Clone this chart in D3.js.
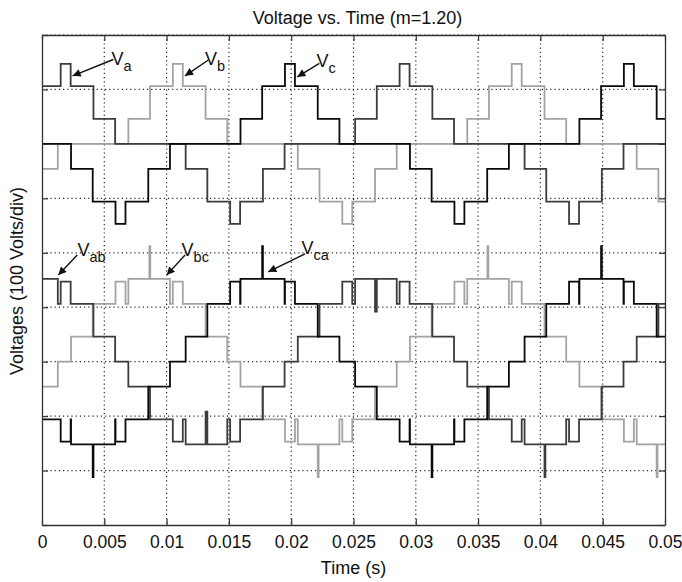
<!DOCTYPE html>
<html>
<head>
<meta charset="utf-8">
<script src="https://cdn.jsdelivr.net/npm/d3@7"></script>
<style>
  body { margin: 0; background: #fff; }
  text { font-family: "Liberation Sans", Arial, Helvetica, sans-serif; }
</style>
</head>
<body>
<div id="chart"></div>
<script>
// axis ticks
var timeTicks = [0, 0.005, 0.01, 0.015, 0.02, 0.025, 0.03, 0.035, 0.04, 0.045, 0.05];
var timeLabels = ["0", "0.005", "0.01", "0.015", "0.02", "0.025", "0.03", "0.035", "0.04", "0.045", "0.05"];
var voltTicks = [0, 100, 200, 300, 400, 500, 600, 700, 800, 900];

// phase voltages, [time (s), volts] - value holds until the next step
var va = [[0, 106], [0.0015, 147], [0.0023, 106], [0.00413, 46], [0.00587, 0],
  [0.01153, -46], [0.01327, -106], [0.0151, -147], [0.0159, -106], [0.01773, -46], [0.01947, 0],
  [0.02513, 46], [0.02687, 106], [0.0287, 147], [0.0295, 106], [0.03133, 46], [0.03307, 0],
  [0.03873, -46], [0.04047, -106], [0.0423, -147], [0.0431, -106], [0.04493, -46], [0.04667, 0]];
var vb = [[0, -46], [0.00127, 0],
  [0.00693, 46], [0.00867, 106], [0.0105, 147], [0.0113, 106], [0.01313, 46], [0.01487, 0],
  [0.02053, -46], [0.02227, -106], [0.0241, -147], [0.0249, -106], [0.02673, -46], [0.02847, 0],
  [0.03413, 46], [0.03587, 106], [0.0377, 147], [0.0385, 106], [0.04033, 46], [0.04207, 0],
  [0.04773, -46], [0.04947, -106]];
var vc = [[0, 0], [0.00233, -46], [0.00407, -106], [0.0059, -147], [0.0067, -106], [0.00853, -46], [0.01027, 0],
  [0.01593, 46], [0.01767, 106], [0.0195, 147], [0.0203, 106], [0.02213, 46], [0.02387, 0],
  [0.02953, -46], [0.03127, -106], [0.0331, -147], [0.0339, -106], [0.03573, -46], [0.03747, 0],
  [0.04313, 46], [0.04487, 106], [0.0467, 147], [0.0475, 106], [0.04933, 46]];

// line voltages
var vab = [[0, 152], [0.00127, 106], [0.0015, 147], [0.0023, 106], [0.00413, 46], [0.00587, 0],
  [0.00693, -46], [0.00867, -106], [0.0105, -147], [0.0113, -106], [0.01153, -152], [0.01313, -92],
  [0.01327, -152], [0.01487, -106], [0.0151, -147], [0.0159, -106], [0.01773, -46], [0.01947, 0],
  [0.02053, 46], [0.02227, 106], [0.0241, 147], [0.0249, 106], [0.02513, 152], [0.02673, 92],
  [0.02687, 152], [0.02847, 106], [0.0287, 147], [0.0295, 106], [0.03133, 46], [0.03307, 0],
  [0.03413, -46], [0.03587, -106], [0.0377, -147], [0.0385, -106], [0.03873, -152], [0.04033, -212],
  [0.0404, -152], [0.04207, -106], [0.0423, -147], [0.0431, -106], [0.04493, -46], [0.04667, 0],
  [0.04773, 46], [0.04947, 106]];
var vbc = [[0, -46], [0.00127, 0], [0.00233, 46], [0.00407, 106], [0.0059, 147], [0.0067, 106],
  [0.00693, 152], [0.00862, 212], [0.00869, 152], [0.01027, 106], [0.0105, 147], [0.0113, 106],
  [0.01313, 46], [0.01487, 0], [0.01593, -46], [0.01767, -106], [0.0195, -147], [0.0203, -106],
  [0.02053, -152], [0.02213, -212], [0.0222, -152], [0.02387, -106], [0.0241, -147], [0.0249, -106],
  [0.02673, -46], [0.02847, 0], [0.02953, 46], [0.03127, 106], [0.0331, 147], [0.0339, 106],
  [0.03413, 152], [0.03575, 212], [0.03582, 152], [0.03747, 106], [0.0377, 147], [0.0385, 106],
  [0.04033, 46], [0.04207, 0], [0.04313, -46], [0.04487, -106], [0.0467, -147], [0.0475, -106],
  [0.04773, -152], [0.04933, -212], [0.0494, -152]];
var vca = [[0, -106], [0.0015, -147], [0.0023, -106], [0.00233, -152], [0.00407, -212], [0.00413, -152],
  [0.00587, -106], [0.0059, -147], [0.0067, -106], [0.00853, -46], [0.01027, 0], [0.01153, 46],
  [0.01327, 106], [0.0151, 147], [0.0159, 106], [0.01593, 152], [0.01767, 212], [0.01773, 152],
  [0.01947, 106], [0.0195, 147], [0.0203, 106], [0.02213, 46], [0.02387, 0], [0.02513, -46],
  [0.02687, -106], [0.0287, -147], [0.0295, -106], [0.02953, -152], [0.03127, -212], [0.03133, -152],
  [0.03307, -106], [0.0331, -147], [0.0339, -106], [0.03573, -46], [0.03747, 0], [0.03873, 46],
  [0.04047, 106], [0.0423, 147], [0.0431, 106], [0.04313, 152], [0.04487, 212], [0.04493, 152],
  [0.04667, 106], [0.0467, 147], [0.0475, 106], [0.04933, 46]];

// where each group of traces is centred on the 900 V tall axis
var phaseZero = 700, lineZero = 300;

var margin = { top: 35, right: 17, bottom: 57, left: 42 };
var width = 682 - margin.left - margin.right,
  height = 582 - margin.top - margin.bottom;

var x = d3.scaleLinear().domain([0, 0.05]).range([0, width]);
var y = d3.scaleLinear().domain([0, 900]).range([height, 0]);

var svg = d3.select("#chart").append("svg")
  .attr("width", 682).attr("height", 582)
  .append("g")
  .attr("transform", "translate(" + margin.left + "," + margin.top + ")");

// dotted grid
svg.append("g").attr("class", "grid")
  .selectAll("line.gx").data(timeTicks.slice(1, -1)).enter().append("line")
  .attr("x1", d => x(d)).attr("x2", d => x(d)).attr("y1", 0).attr("y2", height);
svg.select(".grid")
  .selectAll("line.gy").data(voltTicks.slice(1)).enter().append("line")
  .attr("x1", 0).attr("x2", width).attr("y1", d => y(d)).attr("y2", d => y(d));
svg.selectAll(".grid line")
  .attr("stroke", "#2a2a2a").attr("stroke-width", 1.2).attr("stroke-dasharray", "1.2,3");

// traces
function stepLine(offset) {
  return d3.line()
    .x(d => x(d[0]))
    .y(d => y(offset + d[1]))
    .curve(d3.curveStepAfter);
}
function withEnd(s) {
  return s.concat([[0.05, s[s.length - 1][1]]]);
}
var traces = [
  { data: vbc, zero: lineZero, color: "#a3a3a3" },
  { data: vab, zero: lineZero, color: "#3c3c3c" },
  { data: vca, zero: lineZero, color: "#0a0a0a" },
  { data: vb, zero: phaseZero, color: "#a3a3a3" },
  { data: va, zero: phaseZero, color: "#3c3c3c" },
  { data: vc, zero: phaseZero, color: "#0a0a0a" }
];
traces.forEach(function(tr) {
  svg.append("path")
    .datum(withEnd(tr.data))
    .attr("fill", "none")
    .attr("stroke", tr.color)
    .attr("stroke-width", 1.8)
    .attr("d", stepLine(tr.zero));
});

// axes, MATLAB style ticks pointing inwards
var xBottom = svg.append("g").attr("transform", "translate(0," + height + ")")
  .call(d3.axisBottom(x).tickValues(timeTicks).tickSizeInner(-6).tickSizeOuter(0)
    .tickPadding(11).tickFormat((d, i) => timeLabels[i]));
svg.append("g")
  .call(d3.axisTop(x).tickValues(timeTicks).tickSizeInner(-6).tickSizeOuter(0).tickFormat(""));
svg.append("g")
  .call(d3.axisLeft(y).tickValues(voltTicks).tickSizeInner(-6).tickSizeOuter(0).tickFormat(""));
svg.append("g").attr("transform", "translate(" + width + ",0)")
  .call(d3.axisRight(y).tickValues(voltTicks).tickSizeInner(-6).tickSizeOuter(0).tickFormat(""));
svg.selectAll(".domain").attr("stroke", "#333").attr("stroke-width", 1.3);
svg.selectAll(".tick line").attr("stroke", "#333").attr("stroke-width", 1.2);
xBottom.selectAll("text")
  .attr("font-size", 17.5).attr("fill", "#111")
  .style("font-family", "'Liberation Sans', Arial, sans-serif");

// titles
svg.append("text")
  .attr("x", width / 2 + 4).attr("y", -11.5)
  .attr("text-anchor", "middle").attr("font-size", 18).attr("fill", "#111")
  .text("Voltage vs. Time (m=1.20)");
svg.append("text")
  .attr("x", width / 2).attr("y", height + 49)
  .attr("text-anchor", "middle").attr("font-size", 18).attr("fill", "#111")
  .text("Time (s)");
svg.append("text")
  .attr("transform", "translate(" + (23 - margin.left) + "," + (height / 2 + 1) + ") rotate(-90)")
  .attr("text-anchor", "middle").attr("font-size", 18).attr("fill", "#111")
  .text("Voltages (100 Volts/div)");

// arrow labels: [sub, tip t, tip u, tail t, tail u, label t, label u]
var notes = [
  ["a", 0.00246, 825, 0.00572, 855, 0.00558, 844],
  ["b", 0.01148, 825, 0.01335, 854, 0.01308, 844],
  ["c", 0.02049, 823, 0.02226, 848, 0.02203, 842],
  ["ab", 0.00131, 459, 0.00283, 496, 0.00285, 495],
  ["bc", 0.01001, 459, 0.01148, 496, 0.0112, 495],
  ["ca", 0.01816, 465, 0.02111, 498, 0.02083, 498]
];
svg.append("defs").append("marker")
  .attr("id", "head").attr("viewBox", "0 0 10 10")
  .attr("refX", 10).attr("refY", 5)
  .attr("markerWidth", 11).attr("markerHeight", 8)
  .attr("markerUnits", "userSpaceOnUse")
  .attr("orient", "auto")
  .append("path").attr("d", "M0,0L10,5L0,10z").attr("fill", "#111");
notes.forEach(function(n) {
  svg.append("line")
    .attr("x1", x(n[3])).attr("y1", y(n[4]))
    .attr("x2", x(n[1])).attr("y2", y(n[2]))
    .attr("stroke", "#111").attr("stroke-width", 1.4)
    .attr("marker-end", "url(#head)");
  var t = svg.append("text")
    .attr("x", x(n[5])).attr("y", y(n[6]))
    .attr("font-size", 18).attr("fill", "#111");
  t.append("tspan").text("V");
  t.append("tspan").attr("dy", 6).attr("font-size", 14.5).text(n[0]);
});
</script>
</body>
</html>
